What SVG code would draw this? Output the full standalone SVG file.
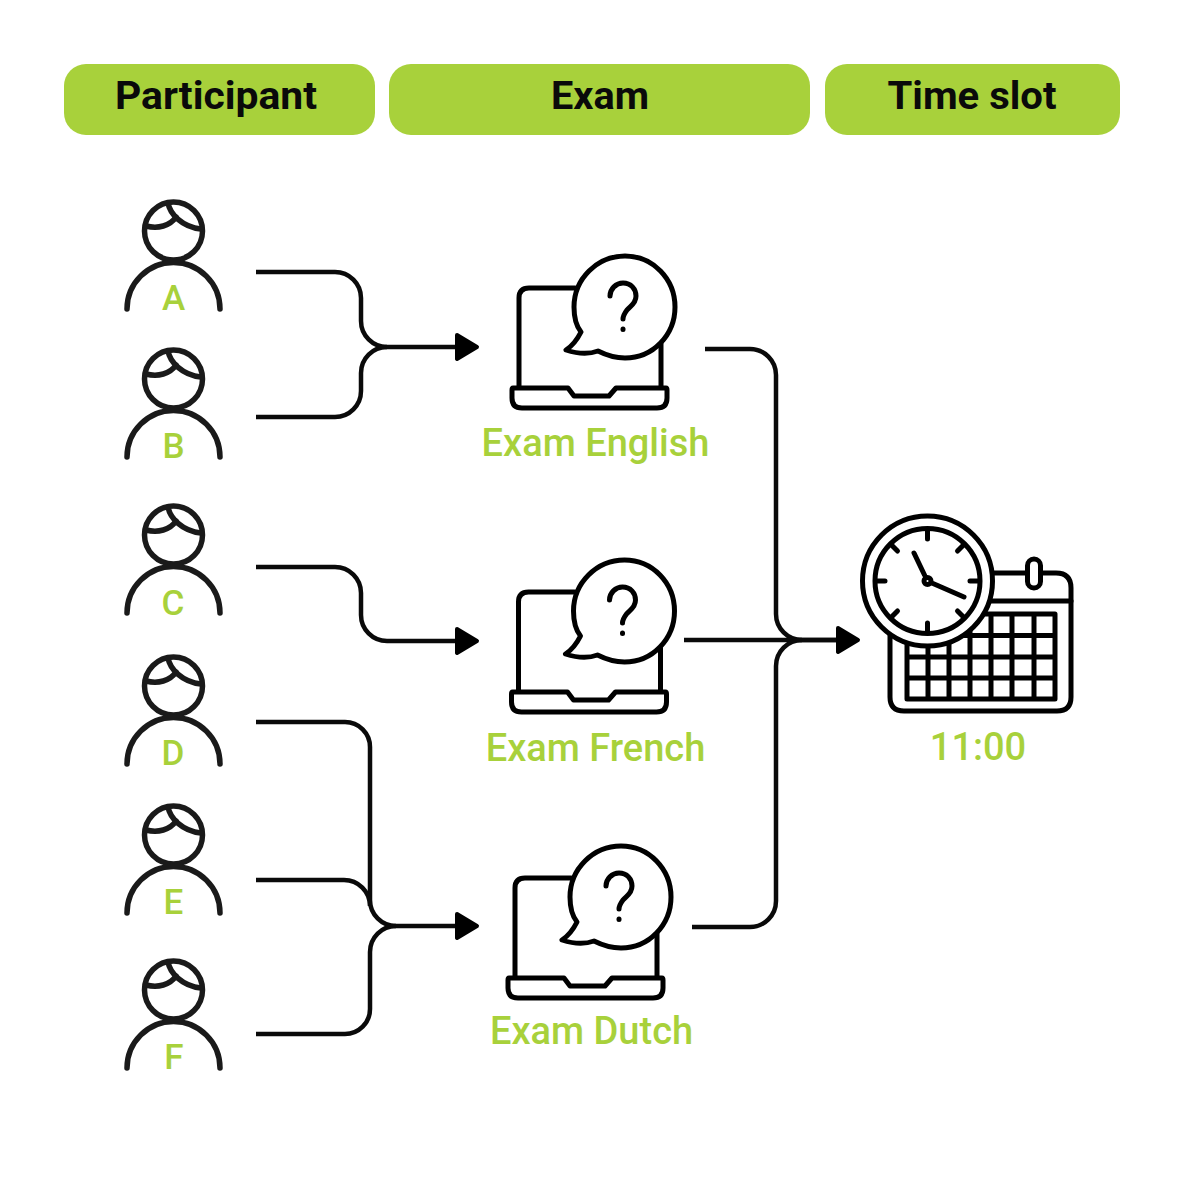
<svg xmlns="http://www.w3.org/2000/svg" xmlns:xlink="http://www.w3.org/1999/xlink" width="1200" height="1200" viewBox="0 0 1200 1200">
<style>
.bar{fill:#a8d13b}
.hd{font-family:"Roboto","Liberation Sans",sans-serif;font-weight:700;font-size:38px;fill:#0a0a0a;text-anchor:middle}
.lb{font-family:"Roboto","Liberation Sans",sans-serif;font-weight:500;font-size:38px;fill:#a8d13b;text-anchor:middle}
.sm{font-size:35px}
.ln{fill:none;stroke:#0a0a0a;stroke-width:4.5;stroke-linejoin:round}
.ic{fill:none;stroke:#000;stroke-width:5;stroke-linecap:round;stroke-linejoin:round}
.pp{fill:none;stroke:#1a1a1a;stroke-width:5.5;stroke-linecap:round;stroke-linejoin:round}
.wf{fill:#fff}
.ah{fill:#000;stroke:#000;stroke-width:4;stroke-linejoin:round}
</style>
<defs>
<g id="person">
<circle class="pp" cx="173.500" cy="231" r="29"/>
<path class="pp" d="M146 226C158 229 170 226 176 217"/>
<path class="pp" d="M168 203C170 214 182 227 201 229"/>
<path class="pp" d="M127 309A46.500 46.500 0 0 1 220 309"/>
</g>
<g id="laptop">
<path class="ic" d="M519 386V298Q519 288 529 288H575"/>
<path class="ic" d="M661 344V386"/>
<path class="ic" d="M513 388H568L574 396H609L616 388H666Q667 388 667 390V398Q667 408 657 408H522Q512 408 512 398V390Q512 388 513 388Z"/>
<path class="ic wf" d="M598 351C608 356 616 358 625 358C653 358 675 335 675 307C675 279 653 256 625 256C597 256 574 279 574 307C574 318 577 327 581 332C577 340 572 346 566 350C578 354 590 354 598 351Z"/>
<path class="ic" stroke-width="4" d="M610 296C610 289 616 283 623 283C631 283 636 289 636 296C636 304 630 306 627 310C624 314 623 316 623 319"/>
<path class="ic" d="M623 329V329.500"/>
</g>
</defs>
<g id="header-participant"><rect class="bar" x="64" y="64" width="311" height="71" rx="22"/><text class="hd" x="216" y="109" textLength="202" lengthAdjust="spacingAndGlyphs">Participant</text></g>
<g id="header-exam"><rect class="bar" x="389" y="64" width="421" height="71" rx="22"/><text class="hd" x="600" y="109" textLength="98" lengthAdjust="spacingAndGlyphs">Exam</text></g>
<g id="header-timeslot"><rect class="bar" x="825" y="64" width="295" height="71" rx="22"/><text class="hd" x="972" y="109" textLength="169" lengthAdjust="spacingAndGlyphs">Time slot</text></g>

<g id="connectors">
<path class="ln" d="M256 272H335A26 26 0 0 1 361 298V321A26 26 0 0 0 387 347H460"/>
<path class="ln" d="M256 417H335A26 26 0 0 0 361 391V373A26 26 0 0 1 387 347"/>
<path class="ln" d="M256 567H335A26 26 0 0 1 361 593V615A26 26 0 0 0 387 641H460"/>
<path class="ln" d="M256 722H345A25 25 0 0 1 370 747V900A26 26 0 0 0 396 926H460"/>
<path class="ln" d="M256 880H344A26 26 0 0 1 370 906"/>
<path class="ln" d="M256 1034H345A25 25 0 0 0 370 1009V952A26 26 0 0 1 396 926"/>
<path class="ln" d="M705 349H750A26 26 0 0 1 776 375V614A26 26 0 0 0 802 640H840"/>
<path class="ln" d="M684 640H840"/>
<path class="ln" d="M692 927H750A26 26 0 0 0 776 901V666A26 26 0 0 1 802 640"/>
<path class="ah" d="M457 335L477 347L457 359Z"/>
<path class="ah" d="M457 629L477 641L457 653Z"/>
<path class="ah" d="M457 914L477 926L457 938Z"/>
<path class="ah" d="M838 628L858 640L838 652Z"/>
</g>

<g id="participant-a"><use xlink:href="#person" href="#person"/><text class="lb sm" x="173.500" y="310">A</text></g>
<g id="participant-b"><use xlink:href="#person" href="#person" y="148"/><text class="lb sm" x="173.500" y="458">B</text></g>
<g id="participant-c"><use xlink:href="#person" href="#person" y="304"/><text class="lb sm" x="173" y="615">C</text></g>
<g id="participant-d"><use xlink:href="#person" href="#person" y="455"/><text class="lb sm" x="173" y="765">D</text></g>
<g id="participant-e"><use xlink:href="#person" href="#person" y="604"/><text class="lb sm" x="173.500" y="914">E</text></g>
<g id="participant-f"><use xlink:href="#person" href="#person" y="759"/><text class="lb sm" x="174" y="1069">F</text></g>

<g id="exam-english"><use xlink:href="#laptop" href="#laptop"/><text class="lb" x="595.500" y="456">Exam English</text></g>
<g id="exam-french"><use xlink:href="#laptop" href="#laptop" x="-0.500" y="304"/><text class="lb" x="595.500" y="761">Exam French</text></g>
<g id="exam-dutch"><use xlink:href="#laptop" href="#laptop" x="-4" y="590"/><text class="lb" x="591.500" y="1044">Exam Dutch</text></g>

<g id="time-slot">
<path class="ic" d="M980 573H1056Q1071 573 1071 588V697Q1071 711 1057 711H904Q890 711 890 697V630"/>
<path class="ic" d="M985 601H1071"/>
<rect class="ic wf" x="1027.500" y="559" width="13" height="29" rx="6.500"/>
<path class="ic" stroke-width="4.500" d="M907 614H1055V699H907ZM907 635.500H1055M907 657H1055M907 678H1055M928 614V699M949 614V699M970 614V699M991 614V699M1012 614V699M1034 614V699"/>
<circle class="ic wf" cx="927.500" cy="581" r="65"/>
<circle class="ic" cx="927.500" cy="581" r="52.500"/>
<path class="ic" stroke-linecap="butt" d="M927.500 531V539M927.500 623V631M877.500 581H885M970 581H977.500M892 545.500L897.500 551M957.500 611L963 616.500M892 616.500L897.500 611M957.500 551L963 545.500"/>
<path class="ic" d="M914 553L924.500 575M933 583.500L964 597"/>
<circle class="ic" cx="927.500" cy="581" r="3.500"/>
<text class="lb" x="978" y="760">11:00</text>
</g>
</svg>
